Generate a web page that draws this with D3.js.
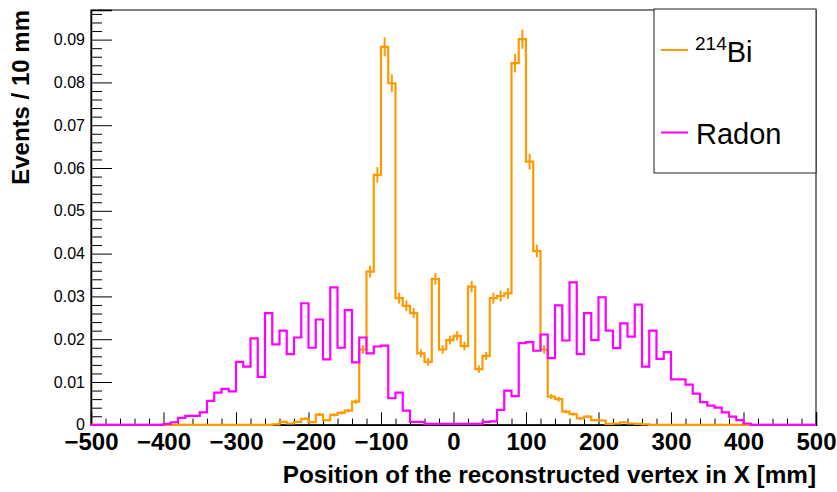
<!DOCTYPE html>
<html>
<head>
<meta charset="utf-8">
<script src="https://cdn.jsdelivr.net/npm/d3@7/dist/d3.min.js"></script>
<style>
  html, body { margin: 0; padding: 0; background: #fff; }
  svg { display: block; font-family: "Liberation Sans", Arial, Helvetica, sans-serif; }
</style>
</head>
<body>
<svg id="chart" width="837" height="492"></svg>
<script>
// ---- data -------------------------------------------------------------
const binLow = -500, binWidth = 10;           // 100 bins of 10 mm from -500 to 500
// 214Bi (orange) bin contents; each row = 10 bins, lower edges -500, -400, ... 400
const bi214 = [
  0,0,0,0,0,0,0,0,0,0,                                                        // -500 .. -410
  0,0,0,0,0,0,0,0,0,0,                                                        // -400 .. -310
  0,0,0,0,0,0.0001,0.0007,0.0003,0.0007,0.0014,                               // -300 .. -210
  0.0006,0.0024,0.0011,0.0023,0.0028,0.0033,0.0054,0.0176,0.0358,0.0584,      // -200 .. -110
  0.0883,0.0798,0.0296,0.0278,0.0261,0.0167,0.0147,0.0341,0.0176,0.0198,      // -100 .. -10
  0.0208,0.0184,0.0323,0.0130,0.0161,0.0296,0.0301,0.0307,0.0845,0.0901,      //    0 ..  90
  0.0615,0.0406,0.0176,0.0066,0.0060,0.0031,0.0025,0.0015,0.0019,0.0011,      //  100 .. 190
  0.0010,0.0002,0.0003,0.0006,0.0003,0.0002,0.0001,0,0,0,                     //  200 .. 290
  0,0,0,0,0,0,0,0,0,0,                                                        //  300 .. 390
  0,0,0,0,0,0,0,0,0,0                                                         //  400 .. 490
];
// Radon (magenta) bin contents, same binning
const radon = [
  0,0,0,0,0,0,0,0,0,0,
  0.0002,0.0006,0.0016,0.0021,0.0021,0.0029,0.0056,0.0075,0.0084,0.0078,
  0.0147,0.0136,0.0202,0.0112,0.0261,0.0188,0.0220,0.0165,0.0204,0.0284,
  0.0180,0.0246,0.0153,0.0321,0.0180,0.0268,0.0146,0.0204,0.0167,0.0183,
  0.0185,0.0062,0.0075,0.0033,0.0007,0.0007,0.0002,0.0002,0.0002,0.0002,
  0.0002,0.0002,0.0002,0.0002,0.0007,0.0008,0.0035,0.0080,0.0067,0.0191,
  0.0193,0.0173,0.0211,0.0156,0.0279,0.0197,0.0333,0.0165,0.0261,0.0198,
  0.0298,0.0220,0.0179,0.0237,0.0206,0.0281,0.0136,0.0220,0.0154,0.0170,
  0.0106,0.0106,0.0094,0.0073,0.0053,0.0045,0.0040,0.0029,0.0019,0.0011,
  0.0003,0,0,0,0,0,0,0,0,0
];
// per-event weight used for the Poisson error bars of the 214Bi histogram
const biWeight = 5.5e-5;
const xTicks = [-500,-400,-300,-200,-100,0,100,200,300,400,500];
const yTicks = [0,0.01,0.02,0.03,0.04,0.05,0.06,0.07,0.08,0.09];
const legendNames = ["214Bi", "Radon"];
const colors = { bi: "#ff9900", radon: "#ff00ff" };
</script>
<script>
const svg = d3.select("#chart");
const L = 91, R = 816, T = 10, B = 424.8;
const x = d3.scaleLinear().domain([-500, 500]).range([L, R]);
const y = d3.scaleLinear().domain([0, 0.09692]).range([B, T]);

// frame
svg.append("rect").attr("x", L).attr("y", T).attr("width", R - L).attr("height", B - T)
  .attr("fill", "none").attr("stroke", "#000").attr("stroke-width", 1);

function stepPoints(vals) {
  const pts = [];
  vals.forEach((v, i) => {
    const x0 = binLow + i * binWidth, x1 = x0 + binWidth;
    pts.push([x(x0), y(v)], [x(x1), y(v)]);
  });
  return pts;
}
const line = d3.line();

// axes
const yMinor = d3.range(0, 0.0969, 0.002).filter(v => Math.abs(v / 0.01 - Math.round(v / 0.01)) > 1e-6);
const xMinor = d3.range(-500, 501, 20).filter(v => v % 100 !== 0);

const yAxis = svg.append("g").attr("transform", `translate(${L},0)`)
  .call(d3.axisLeft(y).tickValues(yTicks).tickSize(-21).tickPadding(6)
    .tickFormat(d => d === 0 ? "0" : d3.format(".2f")(d)));
yAxis.select(".domain").attr("stroke-width", 1.5);
yAxis.selectAll("text").attr("font-size", 16).attr("fill", "#000")
  .attr("font-family", "'Liberation Sans', Arial, Helvetica, sans-serif");
svg.append("g").attr("transform", `translate(${L},0)`)
  .call(d3.axisLeft(y).tickValues(yMinor).tickSize(-11).tickFormat(""))
  .select(".domain").remove();

const xAxis = svg.append("g").attr("transform", `translate(0,${B})`)
  .call(d3.axisBottom(x).tickValues(xTicks).tickSize(-12.5).tickPadding(8));
xAxis.select(".domain").attr("stroke-width", 1.5);
xAxis.selectAll("text").attr("font-size", 24).attr("font-weight", "bold").attr("fill", "#000")
  .attr("font-family", "'Liberation Sans', Arial, Helvetica, sans-serif");
svg.append("g").attr("transform", `translate(0,${B})`)
  .call(d3.axisBottom(x).tickValues(xMinor).tickSize(-6.2).tickFormat(""))
  .select(".domain").remove();

// 214Bi histogram with error bars
const gBi = svg.append("g");
gBi.append("path").attr("d", line(stepPoints(bi214)))
  .attr("fill", "none").attr("stroke", colors.bi).attr("stroke-width", 2.2);
bi214.forEach((v, i) => {
  if (v <= 0) return;
  const e = Math.sqrt(v * biWeight);
  const xc = x(binLow + (i + 0.5) * binWidth);
  gBi.append("line").attr("x1", xc).attr("x2", xc).attr("y1", y(Math.max(0, v - e))).attr("y2", y(v + e))
    .attr("stroke", colors.bi).attr("stroke-width", 2);
});

// Radon histogram
svg.append("path").attr("d", line(stepPoints(radon)))
  .attr("fill", "none").attr("stroke", colors.radon).attr("stroke-width", 2.2);

// titles
svg.append("text").attr("x", R).attr("y", 483).attr("text-anchor", "end")
  .attr("font-size", 24.3).attr("font-weight", "bold")
  .text("Position of the reconstructed vertex in X [mm]");
svg.append("text").attr("transform", "translate(29,10) rotate(-90)").attr("text-anchor", "end")
  .attr("font-size", 24).attr("font-weight", "bold")
  .text("Events / 10 mm");

// legend
const lg = svg.append("g");
lg.append("rect").attr("x", 654).attr("y", 9).attr("width", R - 654).attr("height", 164)
  .attr("fill", "#fff").attr("stroke", "#222").attr("stroke-width", 1);
lg.append("line").attr("x1", 661).attr("x2", 688).attr("y1", 50).attr("y2", 50)
  .attr("stroke", colors.bi).attr("stroke-width", 2);
lg.append("line").attr("x1", 661).attr("x2", 688).attr("y1", 132.5).attr("y2", 132.5)
  .attr("stroke", colors.radon).attr("stroke-width", 2);
const t1 = lg.append("text").attr("x", 695).attr("y", 62);
t1.append("tspan").attr("font-size", 19).attr("dy", -12.5).text(legendNames[0].slice(0, 3));
t1.append("tspan").attr("font-size", 29).attr("dy", 12.5).text(legendNames[0].slice(3));
lg.append("text").attr("x", 696).attr("y", 143.5).attr("font-size", 29).text(legendNames[1]);
</script>
</body>
</html>
